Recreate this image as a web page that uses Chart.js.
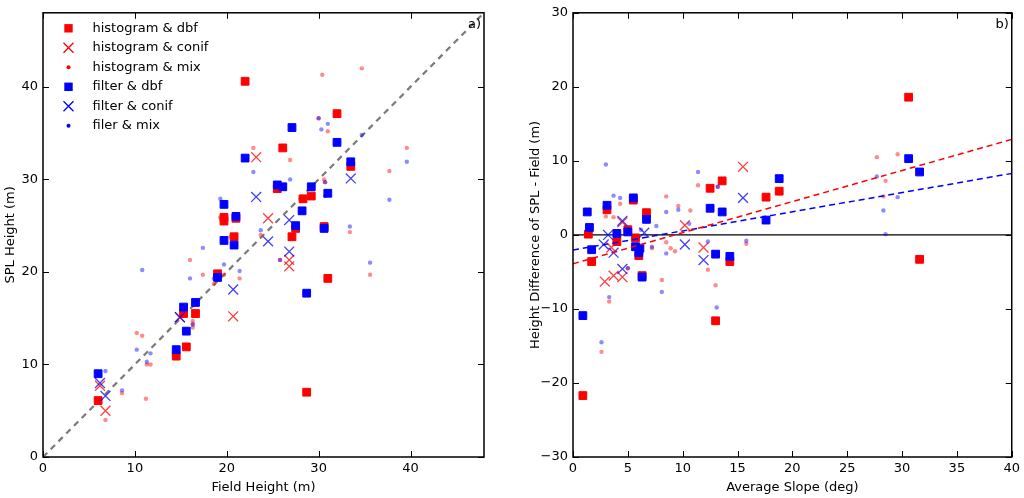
<!DOCTYPE html>
<html>
<head>
<meta charset="utf-8">
<script src="https://cdn.jsdelivr.net/npm/chart.js@4.4.0/dist/chart.umd.min.js"></script>
<style>
html, body { margin: 0; padding: 0; background: #fff; }
#wrap { position: relative; width: 1024px; height: 498px; }
canvas { position: absolute; top: 0; }
#chartA { left: 0; }
#chartB { left: 512px; }
</style>
</head>
<body>
<div id="wrap">
  <canvas id="chartA" width="512" height="498"></canvas>
  <canvas id="chartB" width="512" height="498"></canvas>
</div>
<script>
// Panel a) SPL height vs field height
const histDbfA = [[22.0,40.6],[32.0,37.1],[26.1,33.4],[33.5,31.4],[25.5,29.0],[29.2,28.2],[28.3,27.9],[19.7,25.9],[19.7,25.5],[21.0,25.8],[27.5,24.7],[30.6,24.9],[20.8,23.8],[27.1,23.8],[19.0,19.8],[31.0,19.3],[28.7,7.0],[15.3,15.5],[16.6,15.5],[15.6,11.9],[14.5,10.9],[6.0,6.1]];
const histConifA = [[23.2,32.4],[24.5,25.8],[26.8,21.3],[26.8,20.6],[20.7,15.2],[14.9,15.1],[6.2,7.7],[6.8,5.0]];
const histMixA = [[30.4,41.3],[34.7,42.0],[31.0,35.2],[22.9,33.4],[26.9,32.1],[39.6,33.4],[37.7,30.9],[30.6,30.0],[33.4,24.3],[23.7,24.0],[20.4,23.8],[19.3,25.9],[16.0,21.3],[17.4,19.7],[19.7,19.7],[21.4,19.3],[18.6,18.7],[35.6,19.7],[16.3,14.7],[16.3,14.4],[16.3,14.0],[10.2,13.4],[10.8,13.1],[11.3,10.0],[11.7,10.0],[11.2,6.3],[8.6,6.9],[6.8,4.0],[30.0,36.6],[30.7,29.7],[25.8,21.3]];
const filtDbfA = [[27.1,35.6],[32.0,34.0],[22.0,32.3],[33.5,31.9],[25.5,29.4],[26.1,29.2],[29.2,29.2],[31.0,28.5],[19.7,27.3],[28.2,26.6],[21.0,26.0],[27.5,25.0],[30.6,24.7],[19.7,23.4],[20.8,22.9],[19.0,19.4],[28.7,17.7],[15.3,16.2],[16.6,16.7],[15.6,13.6],[14.5,11.6],[6.0,9.0]];
const filtConifA = [[33.5,30.1],[23.2,28.1],[26.8,25.6],[24.5,23.3],[26.8,22.2],[20.7,18.1],[14.9,15.1],[6.2,8.0],[6.8,6.6]];
const filtMixA = [[30.0,36.6],[31.0,36.0],[30.3,35.4],[34.7,34.8],[22.9,30.8],[26.9,30.0],[30.7,28.2],[30.7,29.7],[39.6,31.9],[37.7,27.8],[19.3,27.9],[33.4,24.9],[23.7,24.5],[17.4,22.6],[19.7,20.8],[21.4,20.1],[35.6,21.0],[25.8,21.3],[10.8,20.2],[16.0,19.3],[18.6,19.3],[16.3,14.3],[10.2,11.6],[11.7,11.2],[11.3,10.3],[8.6,7.2],[6.8,9.3]];
const oneToOneA = [[0,0],[48,48]];

// Panel b) height difference vs average slope
const histDbfB = [[13.6,7.3],[12.5,6.3],[5.5,4.7],[3.1,3.4],[6.7,3.0],[1.4,0.1],[5.0,0.7],[5.7,-0.4],[4.0,-0.9],[1.7,-3.6],[6.0,-2.8],[14.3,-3.6],[6.3,-5.5],[13.0,-11.6],[0.9,-21.7],[30.6,18.6],[18.8,5.9],[17.6,5.1],[31.6,-3.3]];
const histConifB = [[15.5,9.2],[4.5,1.7],[10.2,1.3],[3.5,-1.7],[11.9,-1.7],[2.9,-6.3],[3.7,-5.5],[4.5,-5.7]];
const histMixB = [[11.4,6.7],[4.3,4.2],[8.5,5.2],[9.6,3.9],[10.7,3.3],[3.0,2.5],[3.7,2.4],[8.5,-1.0],[8.9,-1.8],[9.3,-2.2],[7.2,-1.8],[12.3,-4.7],[15.8,-1.2],[8.1,-6.1],[13.0,-6.8],[3.3,-9.0],[2.6,-15.8],[27.7,10.5],[29.6,10.9],[28.5,7.3],[28.3,5.2],[13.2,6.5],[5.0,-4.5]];
const filtDbfB = [[5.5,5.0],[3.1,4.0],[1.3,3.1],[6.7,2.1],[12.5,3.6],[13.6,3.1],[1.5,1.0],[5.0,0.4],[4.0,0.2],[1.7,-2.0],[5.7,-1.6],[6.1,-1.8],[6.0,-2.4],[13.0,-2.6],[14.3,-2.9],[6.3,-5.7],[0.9,-10.9],[30.6,10.3],[31.6,8.5],[18.8,7.6],[17.6,2.0]];
const filtConifB = [[15.5,5.0],[4.5,1.9],[6.5,0.3],[3.2,0.0],[2.8,-1.3],[3.7,-2.4],[10.2,-1.3],[11.9,-3.4],[4.5,-4.6]];
const filtMixB = [[3.0,9.5],[11.4,8.5],[13.2,6.5],[3.7,5.3],[4.3,5.0],[8.5,3.1],[9.6,3.4],[10.6,1.5],[6.2,0.7],[7.6,1.2],[7.2,-1.6],[8.5,-2.5],[12.3,-0.9],[15.8,-0.8],[5.0,-4.5],[8.1,-7.7],[3.3,-8.4],[13.1,-9.8],[2.6,-14.5],[27.7,7.9],[29.6,5.1],[28.3,3.3],[28.5,0.1]];
const fitX = [0, 40];
const histFitY = [-3.9, 12.9];
const filtFitY = [-2.05, 8.3];
const zeroY = [0, 0];

const legendLabels = ['histogram & dbf', 'histogram & conif', 'histogram & mix', 'filter & dbf', 'filter & conif', 'filer & mix'];
const ticksA = [0, 10, 20, 30, 40];

const RED = '#ff0000';
const BLUE = '#0000ff';
const FONT = { family: 'DejaVu Sans', size: 13 };

const toPts = arr => arr.map(([x, y]) => ({ x, y }));
const zipPts = (xs, ys) => xs.map((x, i) => ({ x, y: ys[i] }));

function squares(data, color) {
    return { data: toPts(data), pointStyle: 'rect', pointRadius: 5.5, backgroundColor: color, borderColor: color, borderWidth: 1, showLine: false };
}
function crosses(data, color) {
    return { data: toPts(data), pointStyle: 'crossRot', pointRadius: 7, borderColor: color, borderWidth: 1.3, showLine: false };
}
function dots(data, color) {
    return { data: toPts(data), pointStyle: 'circle', pointRadius: 2.2, backgroundColor: color, borderWidth: 0, showLine: false };
}
function dashed(points, color, width, dash) {
    return { data: points, showLine: true, pointRadius: 0, borderColor: color, borderWidth: width, borderDash: dash, fill: false };
}

const fmt = v => String(v).replace('-', '\u2212');

function axis(min, max, step, title, isX, size, titlePad) {
    return {
        type: 'linear', min, max,
        ticks: { stepSize: step, includeBounds: false, color: '#000', font: FONT, padding: isX ? 4 : 5, maxRotation: 0, callback: fmt },
        grid: { display: false, drawTicks: false },
        border: { display: false },
        title: { display: true, text: title, color: '#000', font: FONT, padding: titlePad },
        afterFit: s => { if (isX) s.height = size; else s.width = size; }
    };
}

// frame, inward ticks on all sides and panel label
function framePlugin(label) {
    return {
        id: 'frame',
        afterDatasetsDraw(chart) {
            const { ctx, chartArea: a, scales } = chart;
            ctx.save();
            ctx.strokeStyle = '#000';
            ctx.lineWidth = 1;
            scales.x.ticks.forEach(t => {
                const px = Math.round(scales.x.getPixelForValue(t.value)) + 0.5;
                ctx.beginPath();
                ctx.moveTo(px, a.bottom); ctx.lineTo(px, a.bottom - 6);
                ctx.moveTo(px, a.top); ctx.lineTo(px, a.top + 6);
                ctx.stroke();
            });
            scales.y.ticks.forEach(t => {
                const py = Math.round(scales.y.getPixelForValue(t.value)) + 0.5;
                ctx.beginPath();
                ctx.moveTo(a.left, py); ctx.lineTo(a.left + 6, py);
                ctx.moveTo(a.right, py); ctx.lineTo(a.right - 6, py);
                ctx.stroke();
            });
            ctx.lineWidth = 1.5;
            ctx.strokeRect(a.left, a.top, a.right - a.left, a.bottom - a.top);
            ctx.fillStyle = '#000';
            ctx.font = '13px "DejaVu Sans"';
            ctx.textAlign = 'right';
            ctx.textBaseline = 'middle';
            ctx.fillText(label, a.right - 3, 25);
            ctx.restore();
        }
    };
}

const legendPlugin = {
    id: 'legendBox',
    afterDraw(chart) {
        const { ctx } = chart;
        const styles = ['rect', 'cross', 'dot', 'rect', 'cross', 'dot'];
        const colors = [RED, RED, RED, BLUE, BLUE, BLUE];
        ctx.save();
        ctx.font = '13px "DejaVu Sans"';
        ctx.textBaseline = 'middle';
        ctx.textAlign = 'left';
        legendLabels.forEach((txt, i) => {
            const y = 28.3 + i * 19.5;
            const x = 68.5;
            ctx.fillStyle = colors[i];
            ctx.strokeStyle = colors[i];
            if (styles[i] === 'rect') {
                ctx.fillRect(x - 4.2, y - 4.2, 8.4, 8.4);
            } else if (styles[i] === 'cross') {
                ctx.lineWidth = 1.3;
                ctx.beginPath();
                ctx.moveTo(x - 5, y - 5); ctx.lineTo(x + 5, y + 5);
                ctx.moveTo(x - 5, y + 5); ctx.lineTo(x + 5, y - 5);
                ctx.stroke();
            } else {
                ctx.beginPath();
                ctx.arc(x, y, 2, 0, Math.PI * 2);
                ctx.fill();
            }
            ctx.fillStyle = '#000';
            ctx.fillText(txt, 92.5, y);
        });
        ctx.restore();
    }
};

const common = {
    responsive: false,
    animation: false,
    events: [],
    plugins: { legend: { display: false }, tooltip: { enabled: false } }
};

new Chart(document.getElementById('chartA'), {
    type: 'scatter',
    data: {
        datasets: [
            squares(filtDbfA, BLUE),
            crosses(filtConifA, 'rgba(0,0,255,0.75)'),
            dots(filtMixA, 'rgba(0,0,255,0.45)'),
            squares(histDbfA, RED),
            crosses(histConifA, 'rgba(255,0,0,0.75)'),
            dots(histMixA, 'rgba(255,0,0,0.45)'),
            dashed(toPts(oneToOneA), '#7a7a7a', 2.2, [6, 5])
        ]
    },
    options: {
        ...common,
        layout: { padding: { top: 8, right: 28, left: 0, bottom: 0 } },
        scales: {
            x: axis(0, 48, 10, 'Field Height (m)', true, 41, { top: 0, bottom: 3 }),
            y: axis(0, 48, 10, 'SPL Height (m)', false, 43, { top: 3, bottom: 0 })
        }
    },
    plugins: [framePlugin('a)'), legendPlugin]
});

new Chart(document.getElementById('chartB'), {
    type: 'scatter',
    data: {
        datasets: [
            dashed(zipPts(fitX, histFitY), RED, 1.5, [6, 4]),
            dashed(zipPts(fitX, filtFitY), BLUE, 1.5, [6, 4]),
            squares(filtDbfB, BLUE),
            crosses(filtConifB, 'rgba(0,0,255,0.75)'),
            dots(filtMixB, 'rgba(0,0,255,0.45)'),
            squares(histDbfB, RED),
            crosses(histConifB, 'rgba(255,0,0,0.75)'),
            dots(histMixB, 'rgba(255,0,0,0.45)'),
            dashed(zipPts(fitX, zeroY), '#000', 1.2, [])
        ]
    },
    options: {
        ...common,
        layout: { padding: { top: 10, right: 12, left: 0, bottom: 0 } },
        scales: {
            x: axis(0, 40, 5, 'Average Slope (deg)', true, 41, { top: 0, bottom: 3 }),
            y: axis(-30, 30, 10, 'Height Difference of SPL - Field (m)', false, 61, { top: 16, bottom: 0 })
        }
    },
    plugins: [framePlugin('b)')]
});
</script>
</body>
</html>
